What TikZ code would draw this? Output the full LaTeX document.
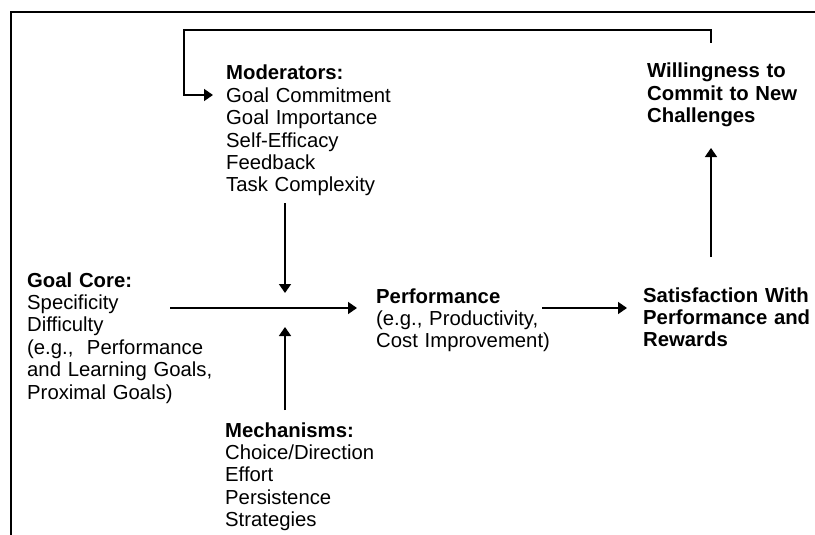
\documentclass[tikz,border=0pt]{standalone}
\usepackage{fontspec}
\setmainfont{Liberation Sans}
\usetikzlibrary{arrows.meta}
\begin{document}
\begin{tikzpicture}[x=1pt,y=-1pt,
  txt/.style={font=\fontsize{20.3}{22.4}\selectfont, text width=#1, align=left,
              inner sep=0pt, anchor=base west},
  txt/.default=190pt,
  link/.style={line width=1.5pt, -{Triangle[length=9pt,width=12pt]}},
  plain/.style={line width=1.5pt},
  frame/.style={line width=2.4pt}]
\useasboundingbox (0,0) rectangle (815,535);

% outer frame (top and left edges)
\draw[frame] (11,535) -- (11,12) -- (815,12);

% text blocks
\node[txt=200pt] (mod) at (226,80)
  {\textbf{Moderators:}\\Goal Commitment\\Goal Importance\\Self-Efficacy\\Feedback\\Task Complexity};
\node[txt=170pt] (will) at (647,78)
  {\textbf{Willingness to}\\\textbf{Commit to New}\\\textbf{Challenges}};
\node[txt=190pt] (core) at (27,287)
  {\textbf{Goal Core:}\\Specificity\\Difficulty\\(e.g.,\ \ Performance\\and Learning Goals,\\Proximal Goals)};
\node[txt=175pt] (perf) at (376,303)
  {\textbf{Performance}\\(e.g., Productivity,\\Cost Improvement)};
\node[txt=172pt] (sat) at (643,302)
  {\textbf{Satisfaction With}\\\textbf{Performance and}\\\textbf{Rewards}};
\node[txt=190pt] (mech) at (225,437)
  {\textbf{Mechanisms:}\\Choice/Direction\\Effort\\Persistence\\Strategies};

% connector end points
\coordinate (mod-out)  at (285,203);
\coordinate (mod-in)   at (285,293);
\coordinate (core-out) at (170,308);
\coordinate (perf-in)  at (357,308);
\coordinate (mech-out) at (285,410);
\coordinate (mech-in)  at (285,327);
\coordinate (perf-out) at (542,308);
\coordinate (sat-in)   at (627,308);
\coordinate (sat-out)  at (711,257);
\coordinate (will-in)  at (711,148);
\coordinate (will-out) at (711,43);
\coordinate (loop-r)   at (711,30);
\coordinate (loop-l)   at (184,30);
\coordinate (loop-d)   at (184,95);
\coordinate (mod-fb)   at (213,95);

% connectors
\draw[link] (mod-out) -- (mod-in);
\draw[link] (core-out) -- (perf-in);
\draw[link] (mech-out) -- (mech-in);
\draw[link] (perf-out) -- (sat-in);
\draw[link] (sat-out) -- (will-in);
\draw[link] (will-out) -- (loop-r) -- (loop-l) -- (loop-d) -- (mod-fb);
\end{tikzpicture}
\end{document}
